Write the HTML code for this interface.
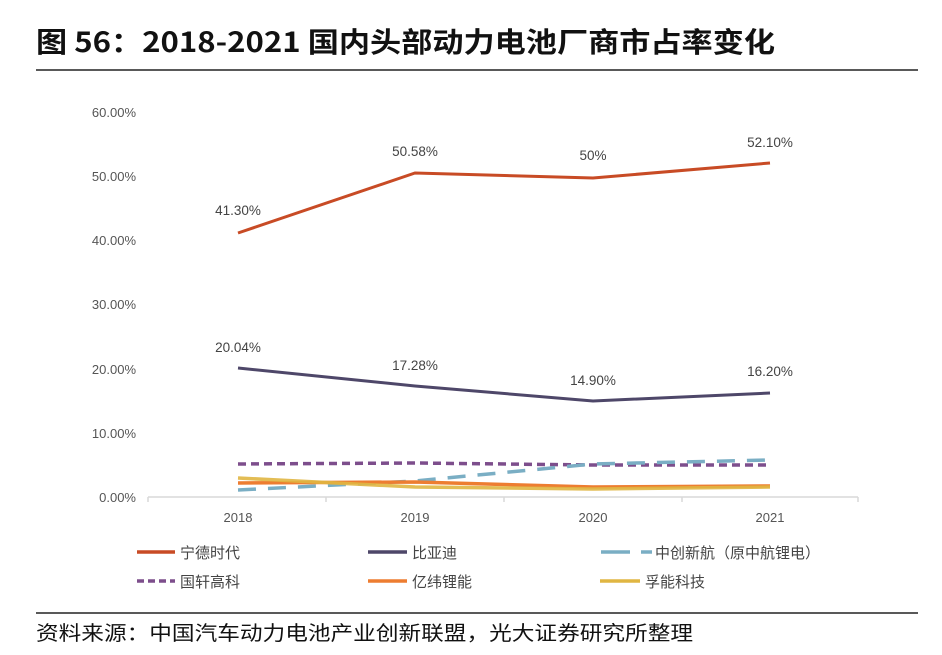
<!DOCTYPE html>
<html><head><meta charset="utf-8"><style>
body{margin:0;background:#fff;width:942px;height:650px;overflow:hidden;font-family:"Liberation Sans","Noto Sans CJK SC",sans-serif}
</style></head><body>
<svg width="942" height="650" xmlns="http://www.w3.org/2000/svg" font-family="Liberation Sans, Noto Sans CJK SC, sans-serif">
<text x="36" y="52" font-size="28" font-weight="bold" fill="#111" font-family="Noto Sans CJK SC, sans-serif" textLength="739" lengthAdjust="spacingAndGlyphs">图 56：2018-2021 国内头部动力电池厂商市占率变化</text>
<line x1="36" y1="70" x2="918" y2="70" stroke="#222" stroke-width="1.5"/>
<g font-size="13" fill="#555" text-anchor="end">
<text x="136" y="117">60.00%</text><text x="136" y="181">50.00%</text><text x="136" y="245">40.00%</text>
<text x="136" y="309">30.00%</text><text x="136" y="374">20.00%</text><text x="136" y="438">10.00%</text><text x="136" y="502">0.00%</text>
</g>
<g stroke="#d9d9d9" stroke-width="1.5"><line x1="148" y1="497" x2="858" y2="497"/>
<line x1="148" y1="497" x2="148" y2="502"/><line x1="326" y1="497" x2="326" y2="502"/><line x1="504" y1="497" x2="504" y2="502"/><line x1="682" y1="497" x2="682" y2="502"/><line x1="858" y1="497" x2="858" y2="502"/></g>
<g font-size="13" fill="#555" text-anchor="middle"><text x="238" y="522">2018</text><text x="415" y="522">2019</text><text x="593" y="522">2020</text><text x="770" y="522">2021</text></g>
<g fill="none" stroke-width="3.5">
<polyline points="238,464 415,463 593,465 770,465" stroke="#7d4e8c" stroke-dasharray="8,5"/>
<polyline points="238,490 415,481 593,464 770,460" stroke="#7aaec4" stroke-dasharray="18,12"/>
<polyline points="238,483 415,482 593,487 770,486" stroke="#ed7d31"/>
<polyline points="238,478 415,487 593,489 770,487" stroke="#e0b642" stroke-opacity="0.9"/>
<polyline points="238,233 415,173 593,178 770,163" stroke="#c84b25" stroke-width="3"/>
<polyline points="238,368 415,386 593,401 770,393" stroke="#4e4769" stroke-width="3"/>
</g>
<g font-size="13.5" fill="#444" text-anchor="middle">
<text x="238" y="215">41.30%</text><text x="415" y="156">50.58%</text><text x="593" y="160">50%</text><text x="770" y="147">52.10%</text>
<text x="238" y="352">20.04%</text><text x="415" y="370">17.28%</text><text x="593" y="385">14.90%</text><text x="770" y="376">16.20%</text>
</g>
<g stroke-width="3.5">
<line x1="137" y1="552" x2="175" y2="552" stroke="#c84b25"/>
<line x1="368" y1="552" x2="407" y2="552" stroke="#4e4769"/>
<line x1="601" y1="552" x2="630" y2="552" stroke="#7aaec4"/><line x1="641" y1="552" x2="652" y2="552" stroke="#7aaec4"/>
<line x1="137" y1="581" x2="175" y2="581" stroke="#7d4e8c" stroke-dasharray="7,4"/>
<line x1="368" y1="581" x2="407" y2="581" stroke="#ed7d31"/>
<line x1="600" y1="581" x2="640" y2="581" stroke="#e0b642"/>
</g>
<g font-size="15" fill="#444" font-family="Noto Sans CJK SC, sans-serif">
<text x="180" y="558">宁德时代</text><text x="412" y="558">比亚迪</text><text x="655" y="558">中创新航（原中航锂电）</text>
<text x="180" y="587">国轩高科</text><text x="412" y="587">亿纬锂能</text><text x="645" y="587">孚能科技</text>
</g>
<line x1="36" y1="613" x2="918" y2="613" stroke="#222" stroke-width="1.5"/>
<text x="36" y="640" font-size="20" fill="#111" font-family="Noto Sans CJK SC, sans-serif" textLength="657" lengthAdjust="spacingAndGlyphs">资料来源：中国汽车动力电池产业创新联盟，光大证券研究所整理</text>
</svg>
</body></html>
